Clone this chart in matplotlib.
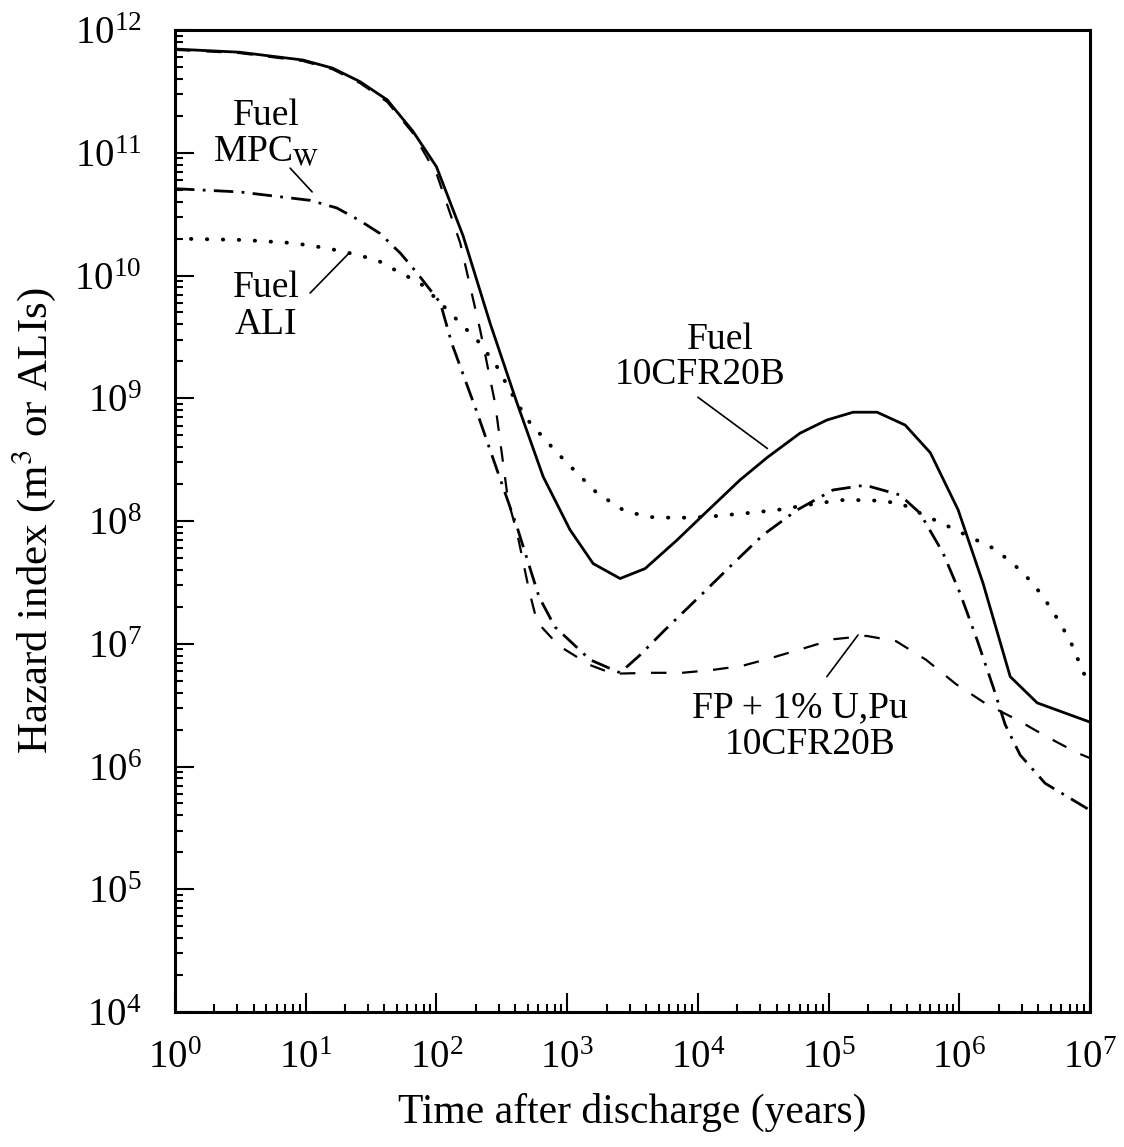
import numpy as np
import matplotlib
matplotlib.use("Agg")
import matplotlib.pyplot as plt
from matplotlib.ticker import LogLocator, NullFormatter

plt.rcParams["font.family"] = ["Liberation Serif", "DejaVu Serif"]
plt.rcParams["mathtext.fontset"] = "stix"

# Fuel, 10CFR20B (solid)
t_solid = [1, 3.1, 9.5, 16, 26, 42, 66, 100, 160, 257, 414, 655, 1050, 1580,
           2540, 3950, 6930, 1.04e4, 2.1e4, 3.4e4, 6.05e4, 9.7e4, 1.54e5,
           2.35e5, 3.85e5, 6.0e5, 9.8e5, 1.52e6, 2.45e6, 3.94e6, 1e7]
h_solid = [7.0e11, 6.6e11, 5.7e11, 4.9e11, 3.8e11, 2.7e11, 1.5e11, 7.7e10,
           2.1e10, 4.1e9, 9.1e8, 2.3e8, 8.5e7, 4.5e7, 3.4e7, 4.1e7, 7.0e7,
           1.06e8, 2.16e8, 3.3e8, 5.2e8, 6.65e8, 7.7e8, 7.7e8, 6.05e8, 3.6e8,
           1.23e8, 3.1e7, 5.4e6, 3.3e6, 2.3e6]

# FP + 1% U,Pu, 10CFR20B (dashed)
t_fp = [1, 3.1, 9.5, 16, 26, 42, 66, 101, 152, 216, 281, 353, 414, 512, 589,
        867, 1500, 2240, 4390, 7570, 1.26e4, 2.18e4, 3.7e4, 6.5e4, 1.1e5,
        1.94e5, 3.28e5, 5.57e5, 9.4e5, 1.63e6, 2.77e6, 4.7e6, 8.0e6, 1e7]
h_fp = [6.9e11, 6.5e11, 5.6e11, 4.8e11, 3.7e11, 2.6e11, 1.45e11, 6.6e10,
        1.84e10, 3.6e9, 9.1e8, 1.48e8, 8.0e7, 2.7e7, 1.5e7, 9.6e6, 6.7e6,
        5.7e6, 5.8e6, 5.8e6, 6.1e6, 6.6e6, 7.7e6, 9.2e6, 1.09e7, 1.16e7,
        1.05e7, 7.4e6, 4.7e6, 3.2e6, 2.4e6, 1.74e6, 1.29e6, 1.17e6]

# Fuel, MPCw (dash-dot)
t_mpc = [1, 3.1, 10.8, 17.3, 26, 37, 53, 71, 107, 131, 205, 291, 414, 610,
         807, 1500, 2540, 3610, 5610, 1.1e4, 1.86e4, 3.15e4, 5.74e4, 1.08e5,
         1.9e5, 3.52e5, 5.0e5, 7.5e5, 1.01e6, 1.37e6, 1.82e6, 2.24e6, 2.92e6,
         4.53e6, 1e7]
h_mpc = [5.1e10, 4.8e10, 4.1e10, 3.55e10, 2.8e10, 2.2e10, 1.52e10, 1.05e10,
         6.0e9, 2.8e9, 7.6e8, 2.6e8, 8.9e7, 2.4e7, 1.37e7, 7.4e6, 5.8e6,
         8.1e6, 1.3e7, 2.6e7, 4.5e7, 7.7e7, 1.23e8, 1.79e8, 1.96e8, 1.63e8,
         1.16e8, 5.5e7, 2.6e7, 1.07e7, 4.4e6, 2.2e6, 1.24e6, 7.3e5, 4.4e5]

# Fuel, ALI (dotted)
t_ali = [1, 3.3, 8.0, 14.6, 21.8, 35, 53, 75, 107, 152, 216, 291, 414, 520,
         837, 1190, 1690, 2680, 4080, 6930, 1.17e4, 2.38e4, 4.04e4, 6.84e4,
         1.22e5, 2.07e5, 3.52e5, 5.0e5, 8.5e5, 1.21e6, 1.82e6, 2.58e6, 3.67e6,
         4.7e6, 5.9e6, 7.43e6, 8.85e6, 1e7]
h_ali = [2.0e10, 1.95e10, 1.84e10, 1.67e10, 1.52e10, 1.34e10, 1.05e10, 8.7e9,
         6.0e9, 4.1e9, 2.8e9, 1.8e9, 9.1e8, 6.3e8, 3.6e8, 2.46e8, 1.69e8,
         1.23e8, 1.08e8, 1.06e8, 1.08e8, 1.16e8, 1.23e8, 1.35e8, 1.48e8,
         1.48e8, 1.4e8, 1.16e8, 8.9e7, 7.4e7, 6.0e7, 4.5e7, 3.1e7, 2.15e7,
         1.48e7, 9.4e6, 5.8e6, 5.1e6]

fig = plt.figure(figsize=(11.24, 11.47), dpi=100)
ax = fig.add_axes([0.1557, 0.1177, 0.8141, 0.8561])

ax.plot(t_solid, h_solid, color="black", lw=2.0)
ax.plot(t_fp, h_fp, color="black", lw=1.6, dashes=(7, 7))
ax.plot(t_mpc, h_mpc, color="black", lw=2.0, dashes=(7, 3, 1, 3))
ax.plot(t_ali, h_ali, color="black", lw=2.8, dashes=(0.1, 4.0),
        dash_capstyle="round")

ax.set_xscale("log")
ax.set_yscale("log")
ax.set_xlim(1, 1e7)
ax.set_ylim(1e4, 1e12)

for axis in (ax.xaxis, ax.yaxis):
    axis.set_major_locator(LogLocator(base=10, numticks=20))
    axis.set_minor_locator(LogLocator(base=10, subs=np.arange(2, 10), numticks=100))
    axis.set_minor_formatter(NullFormatter())

ax.tick_params(which="both", direction="in", top=False, right=False,
               labelsize=28, width=1.5, colors="black")
ax.tick_params(which="major", length=14)
ax.tick_params(which="minor", length=6)
ax.tick_params(axis="x", which="major", pad=20)
ax.tick_params(axis="y", which="major", pad=24)
for s in ax.spines.values():
    s.set_linewidth(2.2)

ax.set_xlabel("Time after discharge (years)", fontsize=30, labelpad=12)
ax.set_ylabel("Hazard index (m$^3$ or ALIs)", fontsize=31, labelpad=12)

fs = 27
line = dict(arrowstyle="-", color="black", lw=1.2, shrinkA=0, shrinkB=0)
ax.text(5.0, 2.0e11, "Fuel", fontsize=fs, ha="center", va="center")
ax.text(5.0, 1.0e11, "MPC$_{\\mathrm{W}}$", fontsize=fs, ha="center", va="center")
ax.annotate("", xy=(11.2, 4.8e10), xytext=(7.6, 7.5e10), arrowprops=line)

ax.text(5.0, 7.9e9, "Fuel", fontsize=fs, ha="center", va="center")
ax.text(5.0, 3.95e9, "ALI", fontsize=fs, ha="center", va="center")
ax.annotate("", xy=(21.8, 1.55e10), xytext=(10.8, 7.2e9), arrowprops=line)

ax.text(1.48e4, 3.0e9, "Fuel", fontsize=fs, ha="center", va="center")
ax.text(1.04e4, 1.55e9, "10CFR20B", fontsize=fs, ha="center", va="center")
ax.annotate("", xy=(3.4e4, 3.9e8), xytext=(1.0e4, 1.02e9), arrowprops=line)

ax.text(6.05e4, 3.0e6, "FP + 1% U,Pu", fontsize=fs, ha="center", va="center")
ax.text(7.2e4, 1.5e6, "10CFR20B", fontsize=fs, ha="center", va="center")
ax.annotate("", xy=(1.68e5, 1.18e7), xytext=(9.7e4, 5.4e6), arrowprops=line)

fig.savefig("out.png", dpi=100)
